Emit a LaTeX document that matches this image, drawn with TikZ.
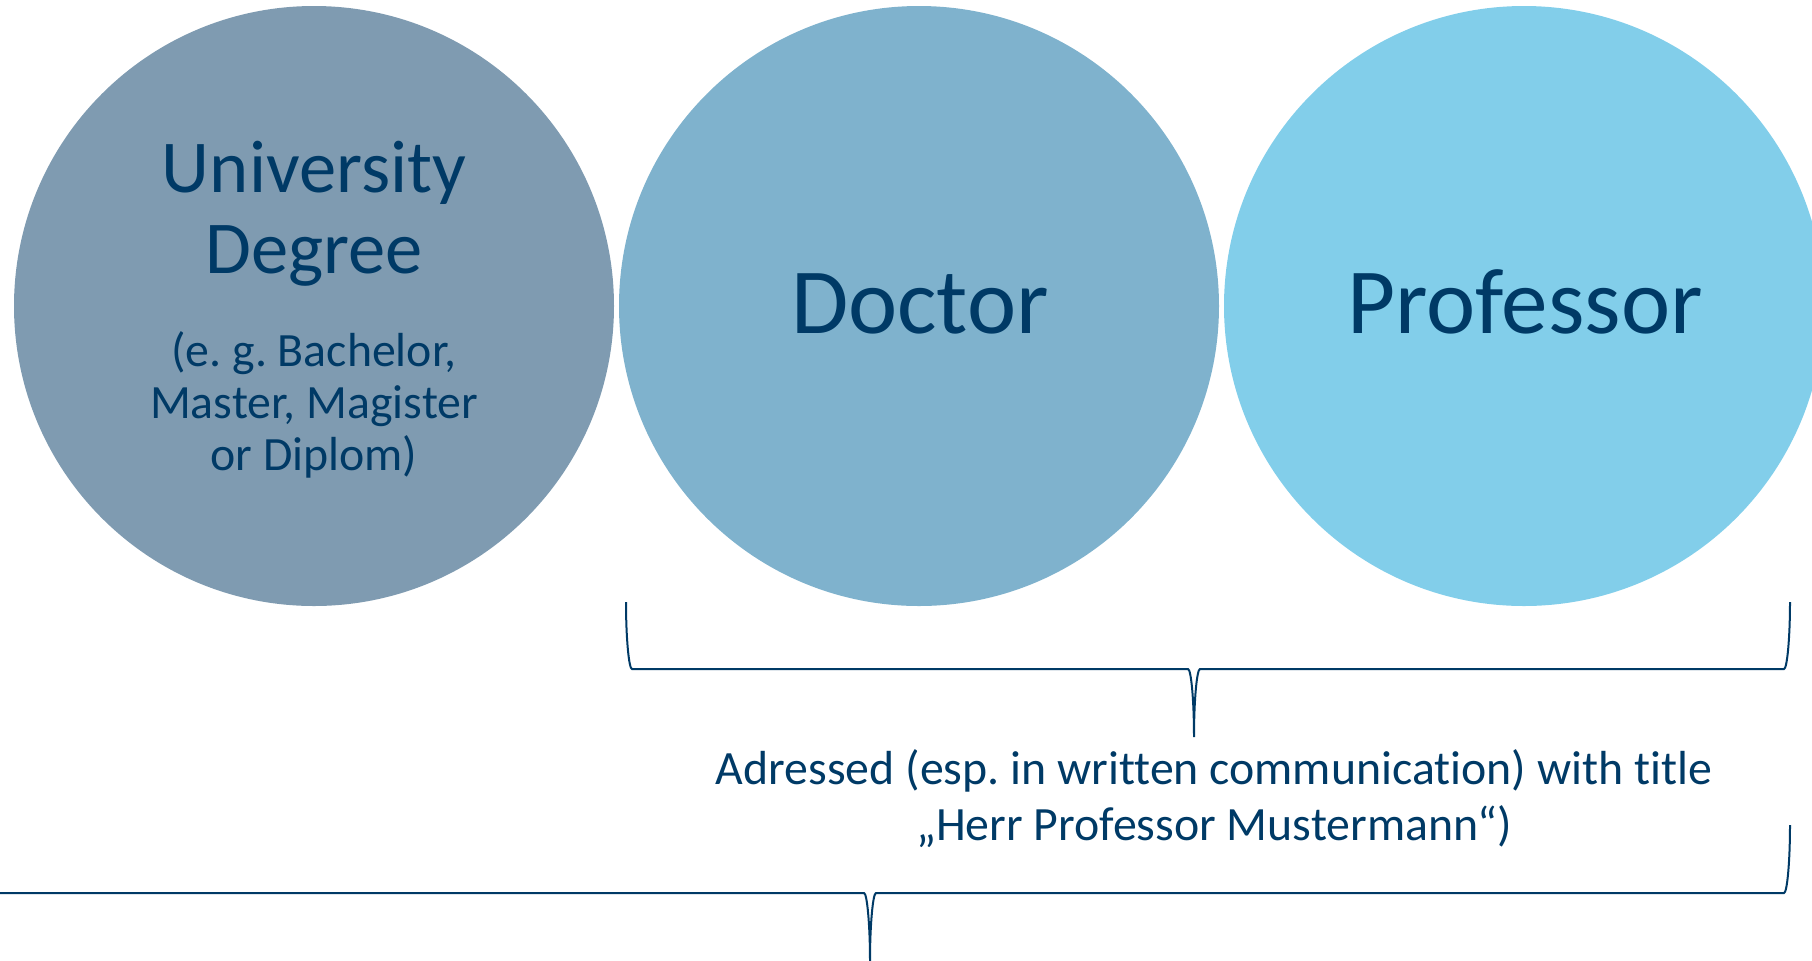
\documentclass[tikz,border=0pt]{standalone}
\usepackage{fontspec}
\setmainfont{Carlito}[Ligatures=NoCommon]
\frenchspacing

\definecolor{navytext}{HTML}{003A66}
\definecolor{degreefill}{HTML}{7F9BB1}
\definecolor{doctorfill}{HTML}{7FB2CD}
\definecolor{proffill}{HTML}{82CEEA}

\tikzset{
  disc/.style={circle, minimum size=300pt, inner sep=0pt, draw=none},
  titletext/.style={anchor=base, inner sep=0pt, text=navytext, font=\fontsize{46.6}{50}\selectfont},
  degreetext/.style={anchor=base, inner sep=0pt, text=navytext, font=\fontsize{37.3}{40}\selectfont},
  smalltext/.style={anchor=base, inner sep=0pt, text=navytext, font=\fontsize{23.9}{28}\selectfont},
  bracket/.style={draw=navytext, line width=1pt}
}

\begin{document}
\begin{tikzpicture}[x=0.5pt, y=-0.5pt]
	\useasboundingbox (0,0) rectangle (1812,960);
	\clip (0,0) rectangle (1812,960);

	% the three circles
	\node [disc, fill=degreefill] (degree) at (314,306) {};
	\node [disc, fill=doctorfill] (doctor) at (919,306) {};
	\node [disc, fill=proffill] (professor) at (1524,306) {};

	\node [degreetext] (degreeA) at (314,192) {University};
	\node [degreetext] (degreeB) at (314,273) {Degree};
	\node [smalltext] (degreeC) at (314,366) {(e. g. Bachelor,};
	\node [smalltext] (degreeD) at (314,418) {Master, Magister};
	\node [smalltext] (degreeE) at (314,470) {or Diplom)};

	\node [titletext] (doctorlbl) at (920,333) {Doctor};
	\node [titletext] (proflbl) at (1525,333) {Professor};

	% upper brace under doctor and professor
	\draw [bracket] (626,602) .. controls (626,639) and (629,669) .. (632,669)
		-- (1188,669) .. controls (1191,669) and (1194,699) .. (1194,737)
		.. controls (1194,699) and (1197,669) .. (1200,669)
		-- (1784,669) .. controls (1787,669) and (1790,639) .. (1790,602);

	\node [smalltext] (addressA) at (1214,784) {Adressed (esp. in written communication) with title};
	\node [smalltext] (addressB) at (1214,840) {„Herr Professor Mustermann“)};

	% lower brace, left end runs off the page
	\draw [bracket] (-50,825) .. controls (-50,863) and (-47,893) .. (-44,893)
		-- (864,893) .. controls (867,893) and (870,924) .. (870,961)
		.. controls (870,924) and (873,893) .. (876,893)
		-- (1784,893) .. controls (1787,893) and (1790,863) .. (1790,825);
\end{tikzpicture}
\end{document}
